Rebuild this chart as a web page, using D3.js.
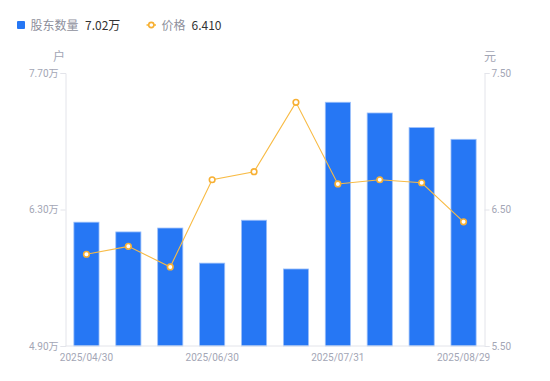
<!DOCTYPE html>
<html><head><meta charset="utf-8">
<script src="https://cdn.jsdelivr.net/npm/d3@7"></script>
<style>body{margin:0;background:#fff}svg{display:block;font-family:"Noto Sans CJK SC","Noto Sans",sans-serif}</style>
</head><body><svg id="c" width="550" height="381"></svg>
<script>
const categories = ["2025/04/30","2025/05/20","2025/06/10","2025/06/30","2025/07/10","2025/07/20","2025/07/31","2025/08/10","2025/08/20","2025/08/29"];
const tickLabels = ["2025/04/30","2025/06/30","2025/07/31","2025/08/29"];
const holders = [6.17, 6.07, 6.11, 5.75, 6.19, 5.69, 7.40, 7.29, 7.14, 7.02];
const prices = [6.172, 6.230, 6.079, 6.718, 6.777, 7.285, 6.687, 6.718, 6.696, 6.410];
const leftTicks = [4.90, 6.30, 7.70];
const rightTicks = [5.50, 6.50, 7.50];

const svg = d3.select("#c");
const L = 65.5, R = 484.5, T = 73, B = 346;
const x = d3.scaleBand().domain(categories).range([L, R]).paddingInner(0.4).paddingOuter(0.2);
const yl = d3.scaleLinear().domain([4.9, 7.7]).range([B, T]);
const yr = d3.scaleLinear().domain([5.5, 7.5]).range([B, T]);
const axisCol = "#e3e4ea", textCol = "#a3a6b5";

// bars
svg.append("g").selectAll("rect").data(holders).join("rect")
  .attr("x", (d,i) => x(categories[i]))
  .attr("width", x.bandwidth())
  .attr("y", d => yl(d))
  .attr("height", d => B - yl(d))
  .attr("fill", "#2677f4")
  .attr("stroke", "#9cc0fa").attr("stroke-width", 0.8);

// axes
const gl = svg.append("g").attr("transform", `translate(${L},0)`)
  .call(d3.axisLeft(yl).tickValues(leftTicks).tickSize(5).tickPadding(2).tickFormat(d => d3.format(".2f")(d) + "万"));
const gr = svg.append("g").attr("transform", `translate(${R},0)`)
  .call(d3.axisRight(yr).tickValues(rightTicks).tickSize(5).tickPadding(2).tickFormat(d3.format(".2f")));
const gb = svg.append("g").attr("transform", `translate(0,${B})`)
  .call(d3.axisBottom(x).tickValues(tickLabels).tickSize(0).tickPadding(8));
[gl, gr, gb].forEach(g => {
  g.select(".domain").attr("stroke", axisCol);
  g.selectAll(".tick line").attr("stroke", axisCol);
  g.selectAll("text").attr("fill", textCol).attr("font-size", 10).attr("font-family", "Roboto, 'Noto Sans CJK SC', sans-serif");
});
gb.select(".domain").attr("d", `M${L},0H${R}`);

// unit labels
svg.append("text").attr("x", 59).attr("y", 61).attr("text-anchor", "middle").attr("fill", textCol).attr("font-size", 12).text("户");
svg.append("text").attr("x", 490).attr("y", 61).attr("text-anchor", "middle").attr("fill", textCol).attr("font-size", 12).text("元");

// price line
const cx = (i) => x(categories[i]) + x.bandwidth()/2;
svg.append("path").datum(prices)
  .attr("d", d3.line().x((d,i) => cx(i)).y(d => yr(d)))
  .attr("fill", "none").attr("stroke", "#f8bb45").attr("stroke-width", 1.1);
svg.append("g").selectAll("circle").data(prices).join("circle")
  .attr("cx", (d,i) => cx(i)).attr("cy", d => yr(d)).attr("r", 2.8)
  .attr("fill", "#fff").attr("stroke", "#f7b034").attr("stroke-width", 1.6);

// legend
const lg = svg.append("g");
lg.append("rect").attr("x", 17).attr("y", 21).attr("width", 8).attr("height", 8).attr("rx", 1).attr("fill", "#2677f4");
lg.append("text").attr("x", 30.5).attr("y", 29.5).attr("font-size", 12).attr("fill", "#8e909c").text("股东数量");
lg.append("text").attr("x", 85).attr("y", 29.5).attr("font-size", 12).attr("fill", "#333").text(d3.format(".2f")(holders[holders.length-1]) + "万");
lg.append("line").attr("x1", 146.5).attr("x2", 156).attr("y1", 25).attr("y2", 25).attr("stroke", "#f7b731").attr("stroke-width", 1.5);
lg.append("circle").attr("cx", 151.3).attr("cy", 25).attr("r", 2.6).attr("fill", "#fff").attr("stroke", "#f7b034").attr("stroke-width", 1.6);
lg.append("text").attr("x", 161.5).attr("y", 29.5).attr("font-size", 12).attr("fill", "#8e909c").text("价格");
lg.append("text").attr("x", 191.5).attr("y", 29.5).attr("font-size", 12).attr("fill", "#333").text(d3.format(".3f")(prices[prices.length-1]));
</script></body></html>
